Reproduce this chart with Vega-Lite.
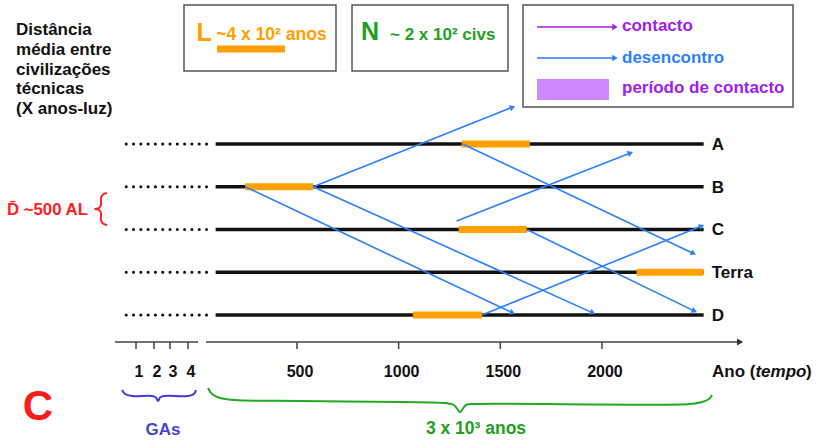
{
"$schema":"https://vega.github.io/schema/vega-lite/v6.json",
"width":817,"height":443,"padding":0,
"autosize":{"type":"fit","contains":"padding"},
"background":"white",
"config":{"view":{"stroke":null},"text":{"font":"Liberation Sans","fontWeight":"bold","fontSize":17}},
"resolve":{"scale":{"color":"independent"}},
"datasets":{
"rows":[
{"civ":"A","d":2500,"t0":100,"t1":2500,"p0":-340,"p1":80,"l0":1310,"l1":1645},
{"civ":"B","d":2000,"t0":100,"t1":2500,"p0":-340,"p1":80,"l0":245,"l1":580},
{"civ":"C","d":1500,"t0":100,"t1":2500,"p0":-340,"p1":80,"l0":1295,"l1":1630},
{"civ":"Terra","d":1000,"t0":100,"t1":2500,"p0":-340,"p1":80,"l0":2170,"l1":2500},
{"civ":"D","d":500,"t0":100,"t1":2500,"p0":-340,"p1":80,"l0":1070,"l1":1410}],
"arrows":[
{"x1":580,"y1":2000,"x2":1560,"y2":2930,"kind":"desencontro"},
{"x1":580,"y1":2000,"x2":1955,"y2":525,"kind":"desencontro"},
{"x1":245,"y1":2000,"x2":1560,"y2":525,"kind":"desencontro"},
{"x1":1315,"y1":2500,"x2":2450,"y2":1220,"kind":"desencontro"},
{"x1":1285,"y1":1600,"x2":2140,"y2":2395,"kind":"desencontro"},
{"x1":1630,"y1":1500,"x2":2455,"y2":545,"kind":"desencontro"},
{"x1":1410,"y1":500,"x2":2490,"y2":1540,"kind":"desencontro"},
{"x1":1680.5,"y1":3868.5,"x2":2064.1,"y2":3868.5,"kind":"contacto"},
{"x1":1680.5,"y1":3505.9,"x2":2064.1,"y2":3505.9,"kind":"desencontro"}],
"boxes":[
{"x":-55.6,"x2":691.9,"y":4125.8,"y2":3353.8},
{"x":770.7,"x2":1537.9,"y":4125.8,"y2":3353.8},
{"x":1611.7,"x2":2939.5,"y":4125.8,"y2":2932.8}],
"swatch":[{"x":1680.5,"x2":2034.6,"y":3260.3,"y2":3014.6}],
"lbar":[{"x":106.7,"x2":441.1,"y":3611.1}],
"axis":[{"x":-395,"x2":13.3,"arrow":false},{"x":52.6,"x2":2679,"arrow":true}],
"ticks":[
{"x":-291.6,"label":"1"},{"x":-203,"label":"2"},{"x":-124.4,"label":"3"},{"x":-35.9,"label":"4"},
{"x":500,"label":"500"},{"x":1000,"label":"1000"},{"x":1500,"label":"1500"},{"x":2000,"label":"2000"}],
"braces":[
{"b":"D","i":0,"x":-434.3,"y":1926.9},{"b":"D","i":1,"x":-453.9,"y":1909.4},{"b":"D","i":2,"x":-463.8,"y":1868.4},{"b":"D","i":3,"x":-463.8,"y":1786.6},{"b":"D","i":4,"x":-473.6,"y":1751.5},{"b":"D","i":5,"x":-493.3,"y":1739.8},{"b":"D","i":6,"x":-473.6,"y":1728.1},{"b":"D","i":7,"x":-463.8,"y":1693.0},{"b":"D","i":8,"x":-463.8,"y":1611.1},{"b":"D","i":9,"x":-453.9,"y":1570.2},{"b":"D","i":10,"x":-434.3,"y":1552.6},
{"b":"GA","i":0,"x":-360.5,"y":-377.2},{"b":"GA","i":1,"x":-345.7,"y":-424.0},{"b":"GA","i":2,"x":-311.3,"y":-447.4},{"b":"GA","i":3,"x":-212.9,"y":-447.4},{"b":"GA","i":4,"x":-193.3,"y":-464.9},{"b":"GA","i":5,"x":-183.4,"y":-505.9},{"b":"GA","i":6,"x":-173.6,"y":-464.9},{"b":"GA","i":7,"x":-153.9,"y":-447.4},{"b":"GA","i":8,"x":-35.9,"y":-447.4},{"b":"GA","i":9,"x":-6.4,"y":-424.0},{"b":"GA","i":10,"x":3.4,"y":-377.2},
{"b":"T","i":0,"x":62.5,"y":-353.8},{"b":"T","i":1,"x":82.1,"y":-424.0},{"b":"T","i":2,"x":121.5,"y":-470.8},{"b":"T","i":3,"x":195.2,"y":-494.2},{"b":"T","i":4,"x":514.9,"y":-505.9},{"b":"T","i":5,"x":1006.7,"y":-517.6},{"b":"T","i":6,"x":1228,"y":-529.2},{"b":"T","i":7,"x":1272.2,"y":-552.6},{"b":"T","i":8,"x":1301.7,"y":-634.5},{"b":"T","i":9,"x":1331.2,"y":-552.6},{"b":"T","i":10,"x":1375.5,"y":-540.9},{"b":"T","i":11,"x":1990.3,"y":-546.8},{"b":"T","i":12,"x":2432.9,"y":-540.9},{"b":"T","i":13,"x":2492,"y":-517.6},{"b":"T","i":14,"x":2526.4,"y":-482.5},{"b":"T","i":15,"x":2541.2,"y":-435.7}],
"notes":[
{"id":"para","text":"Distância\nmédia entre\ncivilizações\ntécnicas\n(X anos-luz)","x":-881.6,"y":3775},
{"id":"L","text":"L","x":43.3,"y":3699},
{"id":"Ltxt","text":"~4 x 10² anos","x":102.8,"y":3715},
{"id":"N","text":"N","x":859.3,"y":3711},
{"id":"Ntxt","text":"~ 2 x 10² civs","x":957.6,"y":3715},
{"id":"contacto","text":"contacto","x":2098.5,"y":3816},
{"id":"desencontro","text":"desencontro","x":2098.5,"y":3447},
{"id":"periodo","text":"período de contacto","x":2098.5,"y":3102},
{"id":"Dbar","text":"D\u0304 ~500 AL","x":-926.6,"y":1670},
{"id":"C","text":"C","x":-773.6,"y":-725},
{"id":"GAs","text":"GAs","x":-159,"y":-903.5},
{"id":"T3","text":"3 x 10³ anos","x":1380.5,"y":-891.8},
{"id":"ano","text":"Ano (","x":2541,"y":-225},
{"id":"tempo","text":"tempo","x":2754.6,"y":-225},
{"id":"close","text":")","x":3003,"y":-225}]
},
"layer":[
{"data":{"name":"boxes"},"mark":{"type":"rect","fill":"white","stroke":"#555555","strokeWidth":1.5},
 "encoding":{"x":{"field":"x","type":"quantitative","scale":{"domain":[-960.5,3057.5],"nice":false,"zero":false},"axis":null},"x2":{"field":"x2"},
 "y":{"field":"y","type":"quantitative","scale":{"domain":[-997.1,4184.2],"nice":false,"zero":false},"axis":null},"y2":{"field":"y2"}}},
{"data":{"name":"swatch"},"mark":{"type":"rect","fill":"#cc88ff"},
 "encoding":{"x":{"field":"x","type":"quantitative","scale":{"domain":[-960.5,3057.5],"nice":false,"zero":false},"axis":null},"x2":{"field":"x2"},
 "y":{"field":"y","type":"quantitative","scale":{"domain":[-997.1,4184.2],"nice":false,"zero":false},"axis":null},"y2":{"field":"y2"}}},
{"data":{"name":"lbar"},"mark":{"type":"rule","stroke":"#ff9f00","strokeWidth":7},
 "encoding":{"x":{"field":"x","type":"quantitative","scale":{"domain":[-960.5,3057.5],"nice":false,"zero":false},"axis":null},"x2":{"field":"x2"},
 "y":{"field":"y","type":"quantitative","scale":{"domain":[-997.1,4184.2],"nice":false,"zero":false},"axis":null}}},
{"data":{"name":"rows"},"mark":{"type":"rule","stroke":"#111111","strokeWidth":3,"strokeDash":[0.1,7.2],"strokeCap":"round"},
 "encoding":{"x":{"field":"p0","type":"quantitative","scale":{"domain":[-960.5,3057.5],"nice":false,"zero":false},"axis":null},"x2":{"field":"p1"},
 "y":{"field":"d","type":"quantitative","scale":{"domain":[-997.1,4184.2],"nice":false,"zero":false},"axis":null}}},
{"data":{"name":"rows"},"mark":{"type":"rule","stroke":"#111111","strokeWidth":3.5},
 "encoding":{"x":{"field":"t0","type":"quantitative","scale":{"domain":[-960.5,3057.5],"nice":false,"zero":false},"axis":null},"x2":{"field":"t1"},
 "y":{"field":"d","type":"quantitative","scale":{"domain":[-997.1,4184.2],"nice":false,"zero":false},"axis":null}}},
{"data":{"name":"rows"},"mark":{"type":"rule","stroke":"#ff9f00","strokeWidth":7},
 "encoding":{"x":{"field":"l0","type":"quantitative","scale":{"domain":[-960.5,3057.5],"nice":false,"zero":false},"axis":null},"x2":{"field":"l1"},
 "y":{"field":"d","type":"quantitative","scale":{"domain":[-997.1,4184.2],"nice":false,"zero":false},"axis":null}}},
{"data":{"name":"rows"},"mark":{"type":"text","align":"left","baseline":"middle","dx":8,"dy":1,"fill":"#111111"},
 "encoding":{"x":{"field":"t1","type":"quantitative","scale":{"domain":[-960.5,3057.5],"nice":false,"zero":false},"axis":null},
 "y":{"field":"d","type":"quantitative","scale":{"domain":[-997.1,4184.2],"nice":false,"zero":false},"axis":null},"text":{"field":"civ"}}},
{"data":{"name":"arrows"},"mark":{"type":"rule","strokeWidth":1.6},
 "encoding":{"x":{"field":"x1","type":"quantitative","scale":{"domain":[-960.5,3057.5],"nice":false,"zero":false},"axis":null},"x2":{"field":"x2"},
 "y":{"field":"y1","type":"quantitative","scale":{"domain":[-997.1,4184.2],"nice":false,"zero":false},"axis":null},"y2":{"field":"y2"},
 "color":{"field":"kind","type":"nominal","scale":{"domain":["contacto","desencontro"],"range":["#a020e8","#2b7fff"]},"legend":null}}},
{"data":{"name":"arrows"},"transform":[{"calculate":"atan2(-(datum.y2-datum.y1)*0.0855,(datum.x2-datum.x1)*0.20333)*180/PI","as":"ang"}],
 "mark":{"type":"point","shape":"triangle-right","filled":true,"size":40,"opacity":1},
 "encoding":{"x":{"field":"x2","type":"quantitative","scale":{"domain":[-960.5,3057.5],"nice":false,"zero":false},"axis":null},
 "y":{"field":"y2","type":"quantitative","scale":{"domain":[-997.1,4184.2],"nice":false,"zero":false},"axis":null},
 "angle":{"field":"ang","type":"quantitative","scale":null},
 "color":{"field":"kind","type":"nominal","scale":{"domain":["contacto","desencontro"],"range":["#a020e8","#2b7fff"]},"legend":null}}},
{"data":{"name":"axis"},"mark":{"type":"rule","stroke":"#444444","strokeWidth":1.5},
 "encoding":{"x":{"field":"x","type":"quantitative","scale":{"domain":[-960.5,3057.5],"nice":false,"zero":false},"axis":null},"x2":{"field":"x2"},
 "y":{"datum":184.2,"type":"quantitative","scale":{"domain":[-997.1,4184.2],"nice":false,"zero":false},"axis":null}}},
{"data":{"name":"axis"},"transform":[{"filter":"datum.arrow"}],"mark":{"type":"point","shape":"triangle-right","filled":true,"size":50,"color":"#333333","opacity":1},
 "encoding":{"x":{"field":"x2","type":"quantitative","scale":{"domain":[-960.5,3057.5],"nice":false,"zero":false},"axis":null},
 "y":{"datum":184.2,"type":"quantitative","scale":{"domain":[-997.1,4184.2],"nice":false,"zero":false},"axis":null}}},
{"data":{"name":"ticks"},"mark":{"type":"rule","stroke":"#444444","strokeWidth":1.5},
 "encoding":{"x":{"field":"x","type":"quantitative","scale":{"domain":[-960.5,3057.5],"nice":false,"zero":false},"axis":null},
 "y":{"datum":184.2,"type":"quantitative","scale":{"domain":[-997.1,4184.2],"nice":false,"zero":false},"axis":null},"y2":{"datum":102.3}}},
{"data":{"name":"ticks"},"mark":{"type":"text","align":"center","baseline":"alphabetic","dx":3,"fontSize":16,"fill":"#111111"},
 "encoding":{"x":{"field":"x","type":"quantitative","scale":{"domain":[-960.5,3057.5],"nice":false,"zero":false},"axis":null},
 "y":{"datum":-225,"type":"quantitative","scale":{"domain":[-997.1,4184.2],"nice":false,"zero":false},"axis":null},"text":{"field":"label"}}},
{"data":{"name":"braces"},"mark":{"type":"line","strokeWidth":2,"interpolate":"catmull-rom"},
 "encoding":{"x":{"field":"x","type":"quantitative","scale":{"domain":[-960.5,3057.5],"nice":false,"zero":false},"axis":null},
 "y":{"field":"y","type":"quantitative","scale":{"domain":[-997.1,4184.2],"nice":false,"zero":false},"axis":null},
 "order":{"field":"i","type":"quantitative"},
 "color":{"field":"b","type":"nominal","scale":{"domain":["D","GA","T"],"range":["#ff2020","#3d3dd8","#22aa22"]},"legend":null}}},
{"data":{"name":"notes"},"transform":[{"filter":"datum.id=='para' || datum.id=='ano' || datum.id=='close'"}],
 "mark":{"type":"text","align":"left","baseline":"alphabetic","lineBreak":"\n","lineHeight":19.8,"fill":"#111111"},
 "encoding":{"x":{"field":"x","type":"quantitative","scale":{"domain":[-960.5,3057.5],"nice":false,"zero":false},"axis":null},
 "y":{"field":"y","type":"quantitative","scale":{"domain":[-997.1,4184.2],"nice":false,"zero":false},"axis":null},"text":{"field":"text"}}},
{"data":{"name":"notes"},"transform":[{"filter":"datum.id=='tempo'"}],
 "mark":{"type":"text","align":"left","baseline":"alphabetic","fontStyle":"italic","fill":"#111111"},
 "encoding":{"x":{"field":"x","type":"quantitative","scale":{"domain":[-960.5,3057.5],"nice":false,"zero":false},"axis":null},
 "y":{"field":"y","type":"quantitative","scale":{"domain":[-997.1,4184.2],"nice":false,"zero":false},"axis":null},"text":{"field":"text"}}},
{"data":{"name":"notes"},"transform":[{"filter":"datum.id=='L'"}],
 "mark":{"type":"text","align":"center","baseline":"alphabetic","fontSize":25,"fill":"#ff9f00"},
 "encoding":{"x":{"field":"x","type":"quantitative","scale":{"domain":[-960.5,3057.5],"nice":false,"zero":false},"axis":null},
 "y":{"field":"y","type":"quantitative","scale":{"domain":[-997.1,4184.2],"nice":false,"zero":false},"axis":null},"text":{"field":"text"}}},
{"data":{"name":"notes"},"transform":[{"filter":"datum.id=='Ltxt'"}],
 "mark":{"type":"text","align":"left","baseline":"alphabetic","fontSize":17.5,"fill":"#ff9f00"},
 "encoding":{"x":{"field":"x","type":"quantitative","scale":{"domain":[-960.5,3057.5],"nice":false,"zero":false},"axis":null},
 "y":{"field":"y","type":"quantitative","scale":{"domain":[-997.1,4184.2],"nice":false,"zero":false},"axis":null},"text":{"field":"text"}}},
{"data":{"name":"notes"},"transform":[{"filter":"datum.id=='N'"}],
 "mark":{"type":"text","align":"center","baseline":"alphabetic","fontSize":25,"fill":"#22a022"},
 "encoding":{"x":{"field":"x","type":"quantitative","scale":{"domain":[-960.5,3057.5],"nice":false,"zero":false},"axis":null},
 "y":{"field":"y","type":"quantitative","scale":{"domain":[-997.1,4184.2],"nice":false,"zero":false},"axis":null},"text":{"field":"text"}}},
{"data":{"name":"notes"},"transform":[{"filter":"datum.id=='Ntxt'"}],
 "mark":{"type":"text","align":"left","baseline":"alphabetic","fill":"#22a022"},
 "encoding":{"x":{"field":"x","type":"quantitative","scale":{"domain":[-960.5,3057.5],"nice":false,"zero":false},"axis":null},
 "y":{"field":"y","type":"quantitative","scale":{"domain":[-997.1,4184.2],"nice":false,"zero":false},"axis":null},"text":{"field":"text"}}},
{"data":{"name":"notes"},"transform":[{"filter":"datum.id=='T3'"}],
 "mark":{"type":"text","align":"center","baseline":"alphabetic","fontSize":17.5,"fill":"#22a022"},
 "encoding":{"x":{"field":"x","type":"quantitative","scale":{"domain":[-960.5,3057.5],"nice":false,"zero":false},"axis":null},
 "y":{"field":"y","type":"quantitative","scale":{"domain":[-997.1,4184.2],"nice":false,"zero":false},"axis":null},"text":{"field":"text"}}},
{"data":{"name":"notes"},"transform":[{"filter":"datum.id=='contacto' || datum.id=='periodo'"}],
 "mark":{"type":"text","align":"left","baseline":"alphabetic","fill":"#a020e8"},
 "encoding":{"x":{"field":"x","type":"quantitative","scale":{"domain":[-960.5,3057.5],"nice":false,"zero":false},"axis":null},
 "y":{"field":"y","type":"quantitative","scale":{"domain":[-997.1,4184.2],"nice":false,"zero":false},"axis":null},"text":{"field":"text"}}},
{"data":{"name":"notes"},"transform":[{"filter":"datum.id=='desencontro'"}],
 "mark":{"type":"text","align":"left","baseline":"alphabetic","fill":"#2b7fff"},
 "encoding":{"x":{"field":"x","type":"quantitative","scale":{"domain":[-960.5,3057.5],"nice":false,"zero":false},"axis":null},
 "y":{"field":"y","type":"quantitative","scale":{"domain":[-997.1,4184.2],"nice":false,"zero":false},"axis":null},"text":{"field":"text"}}},
{"data":{"name":"notes"},"transform":[{"filter":"datum.id=='Dbar'"}],
 "mark":{"type":"text","align":"left","baseline":"alphabetic","fontSize":16.8,"fill":"#ff2020"},
 "encoding":{"x":{"field":"x","type":"quantitative","scale":{"domain":[-960.5,3057.5],"nice":false,"zero":false},"axis":null},
 "y":{"field":"y","type":"quantitative","scale":{"domain":[-997.1,4184.2],"nice":false,"zero":false},"axis":null},"text":{"field":"text"}}},
{"data":{"name":"notes"},"transform":[{"filter":"datum.id=='C'"}],
 "mark":{"type":"text","align":"center","baseline":"alphabetic","fontSize":42,"fill":"#ff1a1a"},
 "encoding":{"x":{"field":"x","type":"quantitative","scale":{"domain":[-960.5,3057.5],"nice":false,"zero":false},"axis":null},
 "y":{"field":"y","type":"quantitative","scale":{"domain":[-997.1,4184.2],"nice":false,"zero":false},"axis":null},"text":{"field":"text"}}},
{"data":{"name":"notes"},"transform":[{"filter":"datum.id=='GAs'"}],
 "mark":{"type":"text","align":"center","baseline":"alphabetic","fill":"#4646d2"},
 "encoding":{"x":{"field":"x","type":"quantitative","scale":{"domain":[-960.5,3057.5],"nice":false,"zero":false},"axis":null},
 "y":{"field":"y","type":"quantitative","scale":{"domain":[-997.1,4184.2],"nice":false,"zero":false},"axis":null},"text":{"field":"text"}}}
]
}
